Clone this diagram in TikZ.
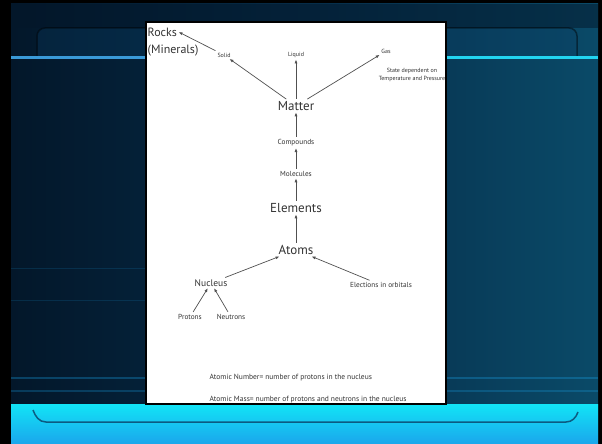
\documentclass[tikz,border=0pt]{standalone}
\usepackage{fontspec}
\setmainfont{PT Sans}
\usetikzlibrary{arrows.meta}
\definecolor{inkgray}{HTML}{333333}
\definecolor{arrowgray}{HTML}{505050}
\definecolor{navyleft}{HTML}{03172A}
\definecolor{navymid}{HTML}{062C48}
\definecolor{tealright}{HTML}{0A4A68}
\definecolor{glowcyan}{HTML}{22D4F0}
\definecolor{lineblue}{HTML}{3A9AD8}
\definecolor{bandcyan}{HTML}{12E4F6}
\definecolor{bandblue}{HTML}{1AA6EC}
\definecolor{bardark}{HTML}{0A3F66}
\tikzset{
  word/.style={inner sep=1.5pt, text=inkgray},
  bigword/.style={word, font=\fontsize{13}{15}\selectfont},
  midword/.style={word, font=\fontsize{12}{14}\selectfont},
  nucword/.style={word, font=\fontsize{9.5}{11}\selectfont},
  smallword/.style={word, font=\fontsize{7.3}{9}\selectfont},
  tinyword/.style={word, font=\fontsize{6}{7.5}\selectfont},
  note/.style={word, font=\fontsize{7.5}{9}\selectfont},
  arrow/.style={-{Latex[length=4pt,width=3pt]}, draw=arrowgray, line width=0.7pt, shorten <=1pt}
}

\begin{document}
\begin{tikzpicture}[x=1pt,y=-1pt]
% slide background
\fill[black] (0,0) rectangle (602,444);
\shade[left color=navyleft, right color=tealright, middle color=navymid] (11,4) rectangle (598,444);
\fill[navyleft, opacity=0.5] (11,4) rectangle (598,28);
\fill[bardark, opacity=0.3, rounded corners=8pt] (37,58) -- (37,28) -- (577,28) -- (577,58);
\draw[black, opacity=0.45, line width=1.5pt, rounded corners=8pt] (37,58) -- (37,28) -- (577,28) -- (577,58);
\draw[lineblue, line width=3pt] (11,58) -- (146,58);
\draw[glowcyan, line width=3pt] (446,58) -- (598,58);
\draw[bandblue, opacity=0.3, line width=1.5pt] (11,378) -- (598,378);
\draw[bandblue, opacity=0.25, line width=1.5pt] (11,391) -- (598,391);
\draw[bandblue, opacity=0.15, line width=1pt] (11,268) -- (146,268);
\draw[bandblue, opacity=0.15, line width=1pt] (11,300) -- (146,300);
\shade[top color=bandcyan, bottom color=bandblue] (11,404) rectangle (598,444);
\draw[bardark, opacity=0.8, line width=1.5pt] (33,410) to[out=-70,in=180] (46,422) -- (566,422) to[out=0,in=-110] (578,412);

% page
\fill[white] (146,22) rectangle (446,404);
\begin{scope}
\clip (146,22) rectangle (446,404);
\node[midword, anchor=west] (rocks) at (146,32) {Rocks};
\node[midword, anchor=west] (minerals) at (146,51) {(Minerals)};
\node[tinyword] (solid) at (224,55) {Solid};
\node[tinyword] (liquid) at (296,55) {Liquid};
\node[tinyword] (gas) at (386,51) {Gas};
\node[tinyword, align=center] (state) at (412,75) {State dependent on\\Temperature and Pressure};
\node[bigword] (matter) at (296,106) {Matter};
\node[smallword] (compounds) at (296,143) {Compounds};
\node[smallword] (molecules) at (296,174) {Molecules};
\node[bigword] (elements) at (296,208) {Elements};
\node[bigword] (atoms) at (296,250) {Atoms};
\node[nucword] (nucleus) at (211,283) {Nucleus};
\node[smallword] (electrons) at (381,285) {Elections in orbitals};
\node[smallword] (protons) at (190,317) {Protons};
\node[smallword] (neutrons) at (231,317) {Neutrons};
\node[note, anchor=west] (atomicnumber) at (208,378) {Atomic Number= number of protons in the nucleus};
\node[note, anchor=west] (atomicmass) at (208,400) {Atomic Mass= number of protons and neutrons in the nucleus};

\draw[arrow] (solid) -- (rocks.east);
\draw[arrow] (matter) -- (solid);
\draw[arrow] (matter) -- (liquid);
\draw[arrow] (matter) -- (gas);
\draw[arrow] (compounds) -- (matter);
\draw[arrow] (molecules) -- (compounds);
\draw[arrow] (elements) -- (molecules);
\draw[arrow] (atoms) -- (elements);
\draw[arrow] (nucleus) -- (atoms);
\draw[arrow] (electrons) -- (atoms);
\draw[arrow] (protons) -- (nucleus);
\draw[arrow] (neutrons) -- (nucleus);
\end{scope}
\draw[black, line width=1.5pt] (146,22) rectangle (446,404);
\end{tikzpicture}
\end{document}
